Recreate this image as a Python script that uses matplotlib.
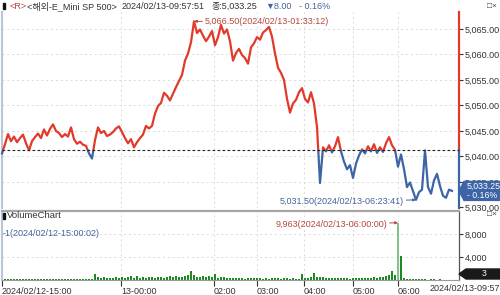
import numpy as np
import matplotlib
matplotlib.use('Agg')
import matplotlib.pyplot as plt
import matplotlib.transforms as mtransforms
from matplotlib.patches import Rectangle, Polygon

plt.rcParams['font.family'] = ['Liberation Sans', 'Noto Sans CJK KR', 'DejaVu Sans']

# 가격 (1틱 = 1 인덱스)
price = [
    5040.6, 5042.4, 5044.4, 5043.0, 5043.9, 5042.8, 5043.6, 5044.3, 5042.6, 5041.2,
    5043.0, 5043.8, 5044.5, 5043.6, 5045.3, 5044.1, 5045.4, 5046.3, 5045.0, 5044.6,
    5043.8, 5044.4, 5043.9, 5045.7, 5043.4, 5042.5, 5042.9, 5042.3, 5042.1, 5040.6,
    5039.6, 5043.2, 5045.7, 5044.6, 5045.0, 5044.0, 5044.3, 5044.8, 5045.5, 5045.9,
    5044.8, 5043.6, 5042.6, 5043.4, 5041.8, 5042.8, 5043.6, 5044.3, 5046.0, 5045.5,
    5046.0, 5048.4, 5049.9, 5050.5, 5052.5, 5051.9, 5051.0, 5052.3, 5053.6, 5054.8,
    5056.0, 5058.8, 5060.2, 5062.4, 5066.5, 5064.2, 5064.9, 5063.7, 5062.6, 5063.5,
    5064.6, 5061.8, 5063.4, 5065.8, 5064.1, 5064.9, 5062.6, 5058.8, 5060.3, 5061.1,
    5059.9, 5059.3, 5058.2, 5061.4, 5062.2, 5063.4, 5062.9, 5064.3, 5064.8, 5065.4,
    5063.5, 5060.2, 5057.4, 5056.4, 5055.0, 5051.3, 5048.6, 5050.4, 5051.1, 5052.6,
    5053.4, 5051.3, 5050.6, 5052.6, 5050.4, 5045.8, 5034.8, 5041.8, 5041.0, 5042.2,
    5040.8, 5042.0, 5043.8, 5041.0, 5039.0, 5037.5, 5038.3, 5035.8, 5038.6, 5040.2,
    5041.4, 5040.6, 5042.0, 5041.0, 5042.4, 5040.7, 5041.8, 5040.9, 5042.6, 5043.8,
    5042.2, 5041.3, 5038.0, 5040.4, 5037.5, 5034.0, 5034.9, 5033.2, 5031.5, 5033.0,
    5033.5, 5041.2, 5034.0, 5032.7, 5035.3, 5036.6, 5034.2, 5032.3, 5031.9, 5033.5,
    5033.25,
]

volume = [
    150, 120, 100, 180, 90, 140, 110, 160, 130, 100,
    200, 120, 90, 150, 170, 110, 130, 190, 100, 140,
    160, 120, 180, 100, 150, 130, 220, 170, 140, 190,
    250, 1000, 450, 380, 520, 300, 420, 350, 600, 400,
    480, 300, 520, 650, 380, 700, 420, 500, 360, 560,
    440, 380, 520, 600, 420, 480, 700, 520, 640, 460,
    580, 700, 900, 1500, 820, 560, 480, 620, 520, 700,
    440, 1000, 380, 520, 460, 350, 420, 300, 380, 340,
    300, 260, 380, 320, 280, 400, 330, 260, 300, 240,
    280, 350, 300, 260, 320, 280, 240, 300, 260, 220,
    1000, 320, 280, 450, 1250, 600, 520, 480, 400, 350,
    300, 380, 320, 280, 350, 300, 260, 320, 380, 300,
    350, 420, 380, 320, 450, 400, 520, 600, 700, 900,
    1500, 800, 9963, 4200, 300, 200, 150, 120, 100, 130,
    90, 110, 80, 120, 100, 70, 90, 60, 80, 50,
    3,
]

prev_close = 5041.25
last_price = 5033.25
price_ticks = [5030, 5035, 5040, 5045, 5050, 5055, 5060, 5065]
vol_ticks = [4000, 8000]
tick_pos = [0, 39.67, 70.67, 85, 100.67, 117, 132]
tick_labels = ['2024/02/12-15:00', '13-00:00', '02:00', '03:00', '04:00', '05:00', '06:00']

RED = '#e3392b'
BLUE = '#3c64a6'
GREEN = '#1f8a1f'
TXT = '#333333'
ANN_RED = '#b5473c'
ANN_BLUE = '#44649a'
GRID = '#d9d9d9'

W, H = 500, 295
fig = plt.figure(figsize=(W / 100, H / 100), dpi=100)
fig.patch.set_facecolor('white')


def fr(x, y):
    return x / W, 1 - y / H


x = np.arange(len(price))
xmax = 152.33

ax = fig.add_axes([2 / W, 1 - 208 / H, 457 / W, 196 / H])
ax2 = fig.add_axes([2 / W, 1 - 280 / H, 457 / W, 69 / H])

# 가격 차트
ax.set_xlim(0, xmax)
ax.set_ylim(5029.9, 5068.33)
for p in price_ticks[1:]:
    ax.axhline(p, color=GRID, lw=0.7, ls=(0, (2, 3)), zorder=0)
for t in tick_pos[1:]:
    ax.axvline(t, color=GRID, lw=0.7, ls=(0, (2, 3)), zorder=0)

line_r, = ax.plot(x, price, color=RED, lw=1.6, zorder=3)
line_b, = ax.plot(x, price, color=BLUE, lw=1.6, zorder=3)
line_r.set_clip_path(Rectangle((-5, prev_close), 200, 100, transform=ax.transData))
line_b.set_clip_path(Rectangle((-5, prev_close - 100), 200, 100, transform=ax.transData))
ax.axhline(prev_close, color='#222222', lw=0.8, ls=(0, (2.5, 2)), zorder=4)

for s in ['top', 'bottom', 'right']:
    ax.spines[s].set_visible(False)
ax.spines['left'].set_color('#b9c6d6')
ax.spines['left'].set_linewidth(1.5)
blend = mtransforms.blended_transform_factory(ax.transAxes, ax.transData)
ax.plot([1, 1], [prev_close, 5068.33], color=RED, lw=1.6, transform=blend, clip_on=False)
ax.plot([1, 1], [5029.9, prev_close], color=BLUE, lw=1.6, transform=blend, clip_on=False)

ax.set_xticks([])
ax.yaxis.tick_right()
ax.set_yticks(price_ticks)
ax.set_yticklabels([f'{p:,.2f}' for p in price_ticks])
ax.tick_params(axis='y', length=3, width=0.8, pad=1, labelsize=6.5, colors=TXT)

imax = int(np.argmax(price))
imin = int(np.argmin(price))
ax.annotate(f'{price[imax]:,.2f}(2024/02/13-01:33:12)', xy=(imax, price[imax]),
            xytext=(8, 0), textcoords='offset points', va='center', ha='left',
            fontsize=6.5, color=ANN_RED,
            arrowprops=dict(arrowstyle='-|>', color=ANN_RED, lw=0.7, mutation_scale=4,
                            shrinkA=0, shrinkB=0))
ax.annotate(f'{price[imin]:,.2f}(2024/02/13-06:23:41)', xy=(imin, price[imin]),
            xytext=(-9, -1.5), textcoords='offset points', va='center', ha='right',
            fontsize=6.5, color=ANN_BLUE,
            arrowprops=dict(arrowstyle='-|>', color=ANN_BLUE, lw=0.7, mutation_scale=4,
                            shrinkA=0, shrinkB=0))

# 거래량 차트
ax2.set_xlim(0, xmax)
ax2.set_ylim(0, 12000)
for v in vol_ticks:
    ax2.axhline(v, color=GRID, lw=0.7, ls=(0, (2, 3)), zorder=0)
for t in tick_pos[1:]:
    ax2.axvline(t, color=GRID, lw=0.7, ls=(0, (2, 3)), zorder=0)
vcolors = ['#86c286' if v > 5000 else GREEN for v in volume]
ax2.bar(np.arange(len(volume)), volume, width=0.9, color=vcolors, zorder=2)

ax2.spines['top'].set_color('#a6a6a6')
ax2.spines['top'].set_linewidth(1.6)
ax2.spines['left'].set_color('#b9c6d6')
ax2.spines['left'].set_linewidth(1.5)
ax2.spines['right'].set_color('#555555')
ax2.spines['right'].set_linewidth(0.9)
ax2.spines['bottom'].set_color('#9a9a9a')
ax2.spines['bottom'].set_linewidth(0.8)
ax2.yaxis.tick_right()
ax2.set_yticks(vol_ticks)
ax2.set_yticklabels([f'{v:,}' for v in vol_ticks])
ax2.tick_params(axis='y', length=3, width=0.8, pad=1, labelsize=6.5, colors=TXT)
ax2.set_xticks(tick_pos)
ax2.set_xticklabels(tick_labels)
ax2.tick_params(axis='x', length=4, width=0.8, pad=1, labelsize=6.5, colors=TXT)
for lbl in ax2.get_xticklabels():
    lbl.set_ha('left')

vmax = int(np.argmax(volume))
ax2.annotate(f'{volume[vmax]:,}(2024/02/13-06:00:00)', xy=(vmax, volume[vmax]),
             xytext=(-8, -1.5), textcoords='offset points', va='center', ha='right',
             fontsize=6.5, color=ANN_RED,
             arrowprops=dict(arrowstyle='-|>', color=ANN_RED, lw=0.7, mutation_scale=4,
                             shrinkA=0, shrinkB=0))

# 상단 제목
fig.patches.append(Rectangle(fr(3, 9), 2 / W, 6 / H, transform=fig.transFigure,
                             color='#111111', figure=fig))
hy = fr(0, 6.5)[1]
fig.text(9 / W, hy, '<R>', color=ANN_RED, fontsize=6.5, va='center')
fig.text(27 / W, hy, '<해외-E_Mini SP 500>', color=TXT, fontsize=6.5, va='center')
fig.text(122 / W, hy, '2024/02/13-09:57:51', color=TXT, fontsize=6.5, va='center')
fig.text(211 / W, hy, '종:5,033.25', color=TXT, fontsize=6.5, va='center')
fig.text(265 / W, hy, '▼8.00', color=ANN_BLUE, fontsize=6.5, va='center')
fig.text(299 / W, hy, '- 0.16%', color=ANN_BLUE, fontsize=6.5, va='center')
fig.text(497 / W, hy, '□×', color='#444444', fontsize=6, va='center', ha='right')

fig.patches.append(Rectangle(fr(3, 219), 2 / W, 6 / H, transform=fig.transFigure,
                             color='#111111', figure=fig))
fig.text(7 / W, fr(0, 216)[1], 'VolumeChart', color=TXT, fontsize=6.8, va='center')
fig.text(3 / W, fr(0, 233)[1], '-1(2024/02/12-15:00:02)', color=ANN_BLUE, fontsize=6.5,
         va='center')
fig.text(497 / W, fr(0, 215)[1], '□×', color='#444444', fontsize=6, va='center', ha='right')
fig.text(430 / W, fr(0, 288.5)[1], '2024/02/13-09:57:51', color=TXT, fontsize=6.5, va='center')

# 현재가 박스
fig.canvas.draw()
cy = H - ax.transData.transform((0, last_price))[1]
box = [fr(459, cy), fr(464, cy - 9.5), fr(500, cy - 9.5), fr(500, cy + 9.5), fr(464, cy + 9.5)]
fig.patches.append(Polygon(box, closed=True, transform=fig.transFigure, color=BLUE, figure=fig,
                           zorder=5))
fig.text(467 / W, fr(0, cy - 4.5)[1], f'{last_price:,.2f}', color='white', fontsize=6.3,
         va='center', zorder=6)
fig.text(467 / W, fr(0, cy + 4.5)[1], '- 0.16%', color='white', fontsize=6.3, va='center',
         zorder=6)

vy = 274
vbox = [fr(459, vy), fr(466, vy - 5), fr(500, vy - 5), fr(500, vy + 5), fr(466, vy + 5)]
fig.patches.append(Polygon(vbox, closed=True, transform=fig.transFigure, color='#1a1a1a',
                           figure=fig, zorder=5))
fig.text(484 / W, fr(0, vy)[1], f'{volume[-1]:,}', color='white', fontsize=6.3, va='center',
         ha='center', zorder=6)

fig.savefig('out.png', dpi=100, facecolor='white')
